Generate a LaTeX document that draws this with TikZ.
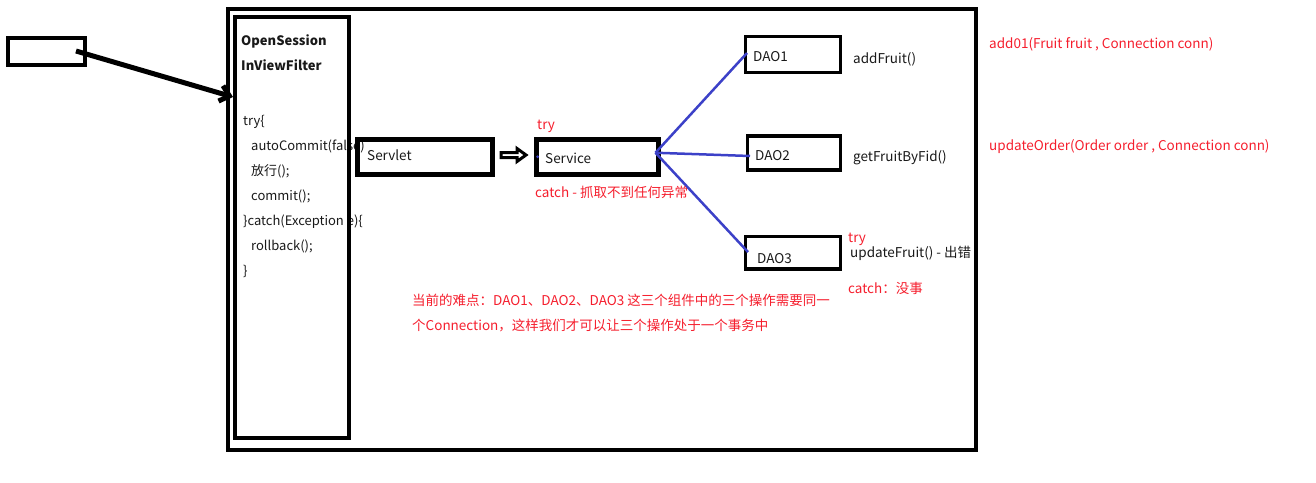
\documentclass[tikz,border=0pt]{standalone}
\usepackage{fontspec}
\setmainfont{Noto Sans CJK SC}
\usetikzlibrary{arrows.meta, calc}

\definecolor{noteRed}{RGB}{245,30,45}
\definecolor{linkBlue}{RGB}{60,65,200}

\begin{document}
\begin{tikzpicture}[x=1pt, y=-1pt]

% styles
\pgfkeys{/tikz/every node/.style={font=\fontsize{13.5}{16}\selectfont}}
\pgfkeys{/box/.style={draw, line width=4pt, anchor=north west, inner sep=0, outer sep=0}} % plain boxes
\pgfkeys{/dao/.style={/box, line width=3.5pt}} % DAO boxes
\pgfkeys{/txt/.style={anchor=base west, inner sep=0, text=black!90}} % black text
\pgfkeys{/code/.style={/txt, font=\fontsize{13}{15}\selectfont}} % filter code lines
\pgfkeys{/note/.style={/txt, text=noteRed}} % red notes
\pgfkeys{/link/.style={draw=linkBlue, line width=2.5pt}} % blue links

\useasboundingbox (0,0) rectangle (1316,482);

% filter code (behind the filter box border)
\node[/txt, font=\fontsize{13}{15}\selectfont\bfseries] (fname1) at (241,45) {OpenSession};
\node[/txt, font=\fontsize{13}{15}\selectfont\bfseries] (fname2) at (241,70) {InViewFilter};
\node[/code] (c1) at (243,125) {try\{};
\node[/code] (c2) at (251,150) {autoCommit(false)};
\node[/code] (c3) at (251,175) {放行();};
\node[/code] (c4) at (251,200) {commit();};
\node[/code] (c5) at (243,225) {\}catch(Exception e)\{};
\node[/code] (c6) at (251,250) {rollback();};
\node[/code] (c7) at (243,275) {\}};

% boxes
\node[/box, minimum width=77pt, minimum height=27pt] (client) at (8,38) {};
\node[/box, minimum width=748pt, minimum height=441pt] (outer) at (228,9) {};
\node[/box, minimum width=114pt, minimum height=421pt] (filter) at (235,17) {};
\node[/box, line width=5pt, minimum width=134.5pt, minimum height=35.5pt] (servlet) at (357.5,139) {};
\node[/box, line width=5pt, minimum width=122pt, minimum height=35.5pt] (service) at (536.5,139) {};
\node[/dao, minimum width=95pt, minimum height=36pt] (dao1) at (745.7,36.7) {};
\node[/dao, minimum width=93pt, minimum height=34pt] (dao2) at (747.7,136) {};
\node[/dao, minimum width=95pt, minimum height=32.3pt] (dao3) at (745.7,236.7) {};

% box labels
\node[/txt] (servletTxt) at (367,160) {Servlet};
\node[/txt] (serviceTxt) at (545,163) {Service};
\node[/txt] (dao1Txt) at (753,61) {DAO1};
\node[/txt] (dao2Txt) at (755,160) {DAO2};
\node[/txt] (dao3Txt) at (757,263) {DAO3};

% request into the filter
\coordinate (src) at (76,51);
\coordinate (hit) at (233,97);
\draw[line width=5pt, -{Straight Barb[length=9pt, width=16pt]}] (src) -- (hit);

% servlet hands over to service (hollow block arrow)
\coordinate (fwdA) at (501,155);
\draw[line width=3pt, fill=white, line join=miter] (fwdA) ++(0,-2.5) -- ++(16,0) -- ++(0,-4) -- ++(9,6.5) -- ++(-9,6.5) -- ++(0,-4) -- ++(-16,0) -- cycle;
\fill[linkBlue] ([xshift=1pt]service.west) circle (1.5pt);

% service uses the three DAOs
\draw[/link] ([xshift=-3pt, yshift=4pt]service.east) -- ([xshift=1.3pt, yshift=1.7pt]dao1.west);
\draw[/link] ([xshift=-3pt, yshift=4pt]service.east) -- ([xshift=2.3pt, yshift=-3pt]dao2.west);
\draw[/link] ([xshift=-3pt, yshift=4pt]service.east) -- ([xshift=2.3pt, yshift=0.8pt]dao3.west);

% methods
\node[/txt] (m1) at (853,63) {addFruit()};
\node[/txt] (m2) at (853,161) {getFruitByFid()};
\node[/txt] (m3) at (850,257) {updateFruit() - 出错};

% red notes
\node[/note] (svcTry) at (537,129) {try};
\node[/note] (svcCatch) at (535,197) {catch - 抓取不到任何异常};
\node[/note] (daoTry) at (848,242) {try};
\node[/note] (daoCatch) at (848,293) {catch：没事};
\node[/note] (hard1) at (412,305) {当前的难点：DAO1、DAO2、DAO3 这三个组件中的三个操作需要同一};
\node[/note] (hard2) at (412,330) {个Connection，这样我们才可以让三个操作处于一个事务中};
\node[/note] (sig1) at (989,48) {add01(Fruit fruit , Connection conn)};
\node[/note] (sig2) at (989,150) {updateOrder(Order order , Connection conn)};

\end{tikzpicture}
\end{document}
